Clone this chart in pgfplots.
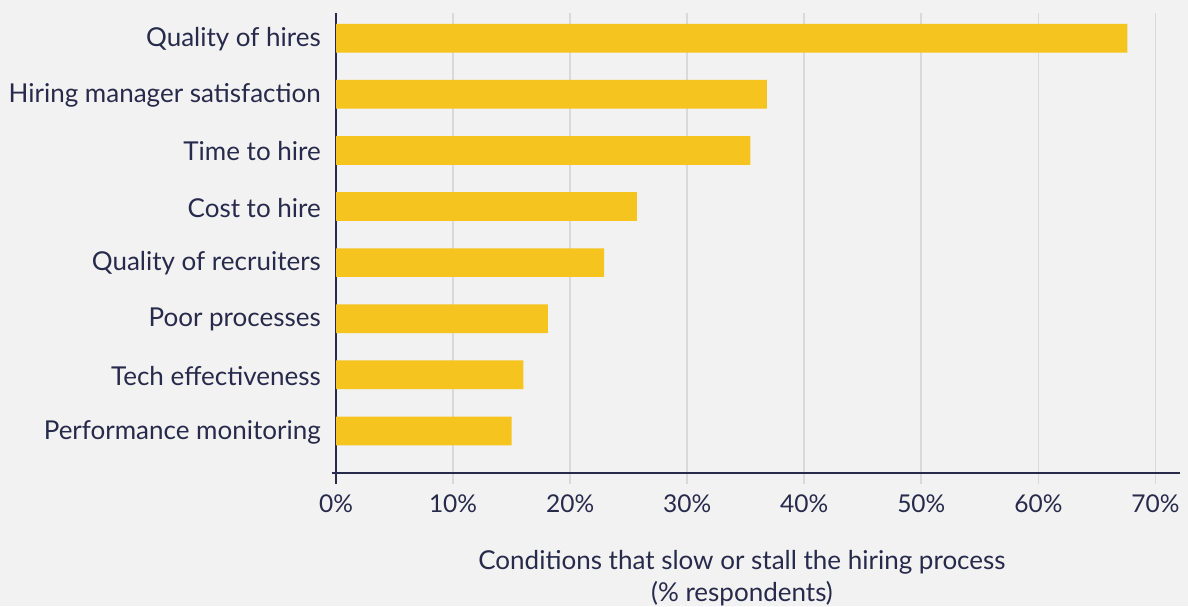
\documentclass[border=0pt]{standalone}
\usepackage{pgfplots}
\pgfplotsset{compat=1.18}
\usepackage{pgfplotstable}
\usepackage{fontspec}
\setmainfont{Lato}
\definecolor{bgc}{HTML}{F2F2F2}
\definecolor{barc}{HTML}{F6C41F}
\definecolor{textc}{HTML}{272A4B}
\definecolor{gridc}{HTML}{D9D9D9}
\pgfplotstableread{
idx value
0 15.0
1 16.0
2 18.1
3 22.9
4 25.7
5 35.4
6 36.8
7 67.6
}\datatable
\begin{document}
\begin{tikzpicture}
\path[use as bounding box, fill=bgc] (0,0) rectangle (1188pt,606pt);
\begin{axis}[
  at={(336pt,133pt)}, anchor=south west,
  scale only axis, width=844pt, height=460pt,
  xmin=0, xmax=72.1, ymin=-0.75, ymax=7.45,
  axis lines*=left,
  axis line style={textc, line width=2pt},
  x axis line style={shorten <=-4pt},
  y axis line style={shorten <=-11pt},
  xtick={0,10,...,70},
  xticklabel={\pgfmathprintnumber{\tick}\%},
  ytick={0,...,7},
  yticklabels={Performance monitoring, Tech effectiveness, Poor processes, Quality of recruiters, Cost to hire, Time to hire, Hiring manager satisfaction, Quality of hires},
  xmajorgrids,
  grid style={gridc, line width=1.7pt},
  tick align=outside,
  major tick length=11pt,
  xtick style={gridc, line width=1.7pt},
  ytick style={draw=none},
  /pgf/number format/assume math mode=true,
  tick label style={text=textc},
  xticklabel style={anchor=north, inner sep=0pt, yshift=-11pt, font=\fontsize{24.5}{28}\selectfont},
  yticklabel style={anchor=east, inner sep=0pt, xshift=-4pt, yshift=-1pt, font=\fontsize{26}{30}\selectfont},
  xlabel={Conditions that slow or stall the hiring process\\(\% respondents)},
  xlabel style={at={(rel axis cs:0.481,0)}, anchor=center, yshift=-105pt, align=center, font=\fontsize{26}{32}\selectfont, text=textc},
]
\addplot[xbar, fill=barc, draw=none, bar width=28.7pt] table[x=value, y=idx]{\datatable};
\end{axis}
\end{tikzpicture}
\end{document}
